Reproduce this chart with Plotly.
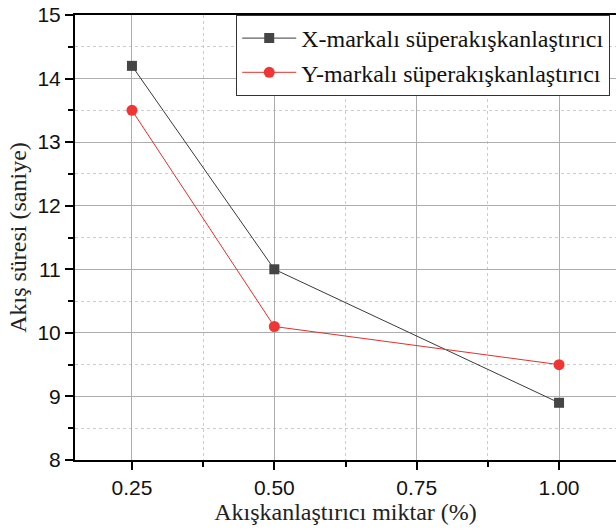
import plotly.graph_objects as go

# Superplasticizer dosage (%) vs. flow time (s)
dosage = [0.25, 0.50, 1.00]
x_brand = [14.2, 11.0, 8.9]
y_brand = [13.5, 10.1, 9.5]
series_names = ["X-markalı süperakışkanlaştırıcı", "Y-markalı süperakışkanlaştırıcı"]
x_ticks = [0.25, 0.50, 0.75, 1.00]
x_ticklabels = ["0.25", "0.50", "0.75", "1.00"]
y_ticks = [8, 9, 10, 11, 12, 13, 14, 15]

serif = "Liberation Serif"
sans = "Liberation Sans"

fig = go.Figure()
fig.add_trace(go.Scatter(
    x=dosage, y=x_brand, name=series_names[0], mode="lines+markers",
    line=dict(color="#3a3a3a", width=1),
    marker=dict(symbol="square", size=10, color="#454545"),
))
fig.add_trace(go.Scatter(
    x=dosage, y=y_brand, name=series_names[1], mode="lines+markers",
    line=dict(color="#e03030", width=1),
    marker=dict(symbol="circle", size=11, color="#f03535"),
))

axis_common = dict(
    showline=True, linecolor="black", linewidth=2,
    ticks="outside", ticklen=8, tickwidth=2, tickcolor="black",
    showgrid=True, gridcolor="#adadad", gridwidth=1,
    zeroline=False,
    tickfont=dict(family=sans, size=21, color="#111111"),
)

fig.update_xaxes(
    range=[0.15, 1.10], tickvals=x_ticks, ticktext=x_ticklabels,
    mirror=True,
    minor=dict(dtick=0.25, tick0=0.125, ticks="outside", ticklen=5, tickwidth=2,
               tickcolor="black", showgrid=True, gridcolor="#cccccc",
               griddash="dot", gridwidth=1),
    title=dict(text="Akışkanlaştırıcı miktar (%)",
               font=dict(family=serif, size=24, color="#222222"), standoff=4),
    **axis_common,
)
fig.update_yaxes(
    range=[8, 15], tickvals=y_ticks,
    minor=dict(dtick=1, tick0=8.5, ticks="outside", ticklen=5, tickwidth=2,
               tickcolor="black", showgrid=True, gridcolor="#cccccc",
               griddash="dot", gridwidth=1),
    title=dict(text="Akış süresi (saniye)",
               font=dict(family=serif, size=24, color="#222222"), standoff=4),
    **axis_common,
)

fig.update_layout(
    width=616, height=531,
    margin=dict(l=75, r=0, t=15, b=71, autoexpand=False),
    plot_bgcolor="white", paper_bgcolor="white",
    showlegend=True,
    legend=dict(
        x=0.298, y=1.0, xanchor="left", yanchor="top",
        bgcolor="white", bordercolor="#333333", borderwidth=1,
        font=dict(family=serif, size=24, color="#111111"),
        itemwidth=54, tracegroupgap=0,
    ),
)

fig.write_html("out.html")
